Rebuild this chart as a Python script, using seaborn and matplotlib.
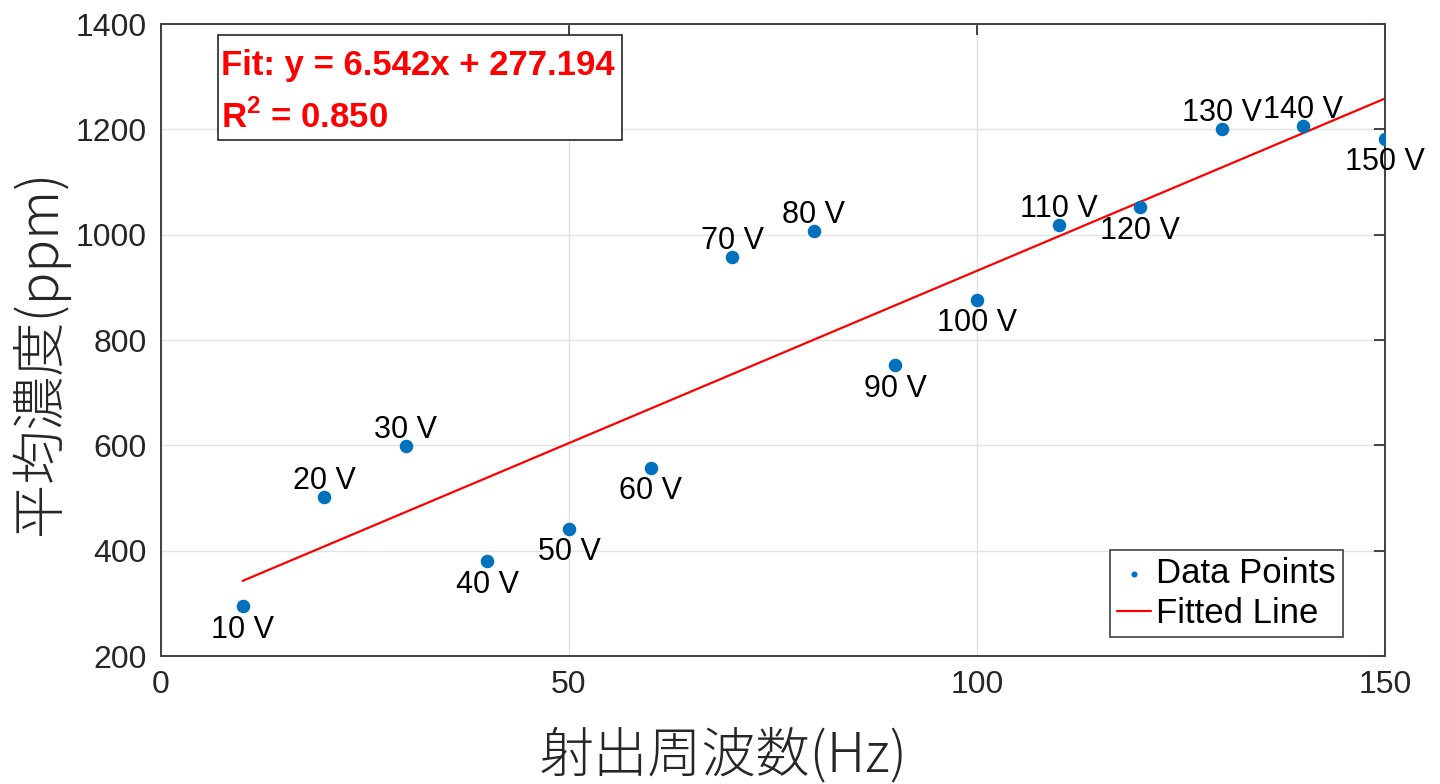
import matplotlib
matplotlib.use("Agg")
import matplotlib.pyplot as plt
from matplotlib.patches import Rectangle
import seaborn as sns
import numpy as np
import pandas as pd

# ---- data ----
freq_hz = [10, 20, 30, 40, 50, 60, 70, 80, 90, 100, 110, 120, 130, 140, 150]
conc_ppm = [294, 502, 599, 380, 441, 557, 957, 1007, 752, 876, 1018, 1052, 1200, 1206, 1182]
voltage_labels = ["10 V", "20 V", "30 V", "40 V", "50 V", "60 V", "70 V", "80 V",
                  "90 V", "100 V", "110 V", "120 V", "130 V", "140 V", "150 V"]
fit_slope = 6.542
fit_intercept = 277.194
fit_r2 = 0.850
x_ticks = [0, 50, 100, 150]
y_ticks = [200, 400, 600, 800, 1000, 1200, 1400]

sns.set_theme(style="white")
plt.rcParams['font.family'] = ['Liberation Sans', 'DejaVu Sans']
plt.rcParams['mathtext.fontset'] = 'custom'
plt.rcParams['mathtext.rm'] = 'Liberation Sans'
plt.rcParams['mathtext.bf'] = 'Liberation Sans:bold'

df = pd.DataFrame({"x": freq_hz, "y": conc_ppm})
fx = np.array([min(freq_hz), max(freq_hz)], dtype=float)
fit_df = pd.DataFrame({"x": fx, "y": fit_slope * fx + fit_intercept})

fig = plt.figure(figsize=(14.4, 7.84), dpi=100)
ax = fig.add_axes([161/1440, 1-656/784, (1385-161)/1440, (656-24)/784])

sns.scatterplot(data=df, x="x", y="y", ax=ax, color="#0072BD", s=95,
                linewidth=0, label="Data Points", zorder=3)
sns.lineplot(data=fit_df, x="x", y="y", ax=ax, color="#FF0000", lw=1.6,
             label="Fitted Line", zorder=2)

# point labels: above if point above fit line, below otherwise
for xv, yv, lab in zip(freq_hz, conc_ppm, voltage_labels):
    above = yv > fit_slope * xv + fit_intercept
    if above:
        ax.annotate(lab, (xv, yv), xytext=(0, 6), textcoords="offset points",
                    ha="center", va="baseline", fontsize=22, color="black", zorder=4)
    else:
        ax.annotate(lab, (xv, yv), xytext=(0, -6), textcoords="offset points",
                    ha="center", va="top", fontsize=22, color="black", zorder=4)

ax.set_xlim(0, 150)
ax.set_ylim(200, 1400)
ax.set_xticks(x_ticks)
ax.set_yticks(y_ticks)
ax.tick_params(axis="both", which="both", direction="in", length=8, width=1.2,
               labelsize=23, colors="#262626", top=True, right=True,
               labelcolor="#262626", pad=10)
ax.grid(True, color="#e3e3e3", lw=1)
for sp in ax.spines.values():
    sp.set_color("#404040")
    sp.set_linewidth(1.4)

cjk = ['Noto Sans CJK JP', 'DejaVu Sans']
ax.set_xlabel("射出周波数(Hz)", fontsize=39, family=cjk, fontweight="light", color="#262626")
ax.set_ylabel("平均濃度(ppm)", fontsize=39, family=cjk, fontweight="light", color="#262626")
ax.xaxis.set_label_coords((724-161)/1224, (656-756)/632)
ax.xaxis.label.set_va("center")
ax.yaxis.set_label_coords((40-161)/1224, (656-352)/632)
ax.yaxis.label.set_va("center")

# fit annotation box
ax.add_patch(Rectangle(((218-161)/1224, (656-140)/632), (622-218)/1224, (140-35)/632,
                       transform=ax.transAxes, fc="white", ec="#262626", lw=1.2, zorder=5))
ax.text((221-161)/1224, (656-75)/632, f"Fit: y = {fit_slope:.3f}x + {fit_intercept:.3f}",
        transform=ax.transAxes, ha="left", va="baseline", fontsize=25, fontweight="bold",
        color="#FF0000", zorder=6)
ax.text((221-161)/1224, (656-128)/632, r"R$^\mathbf{2}$" + f" = {fit_r2:.3f}",
        transform=ax.transAxes, ha="left", va="baseline", fontsize=25, fontweight="bold",
        color="#FF0000", zorder=6)

leg = ax.legend(loc="lower right", bbox_to_anchor=((1343-161)/1224, (656-637)/632),
                borderaxespad=0, fontsize=25, frameon=True, fancybox=False,
                framealpha=1, edgecolor="#404040", markerscale=0.45,
                handlelength=1.0, handletextpad=0.15, labelspacing=0.2, borderpad=0.2)
leg.get_frame().set_linewidth(1.2)
for t in leg.get_texts():
    t.set_color("black")

fig.savefig("out.png", dpi=100)
